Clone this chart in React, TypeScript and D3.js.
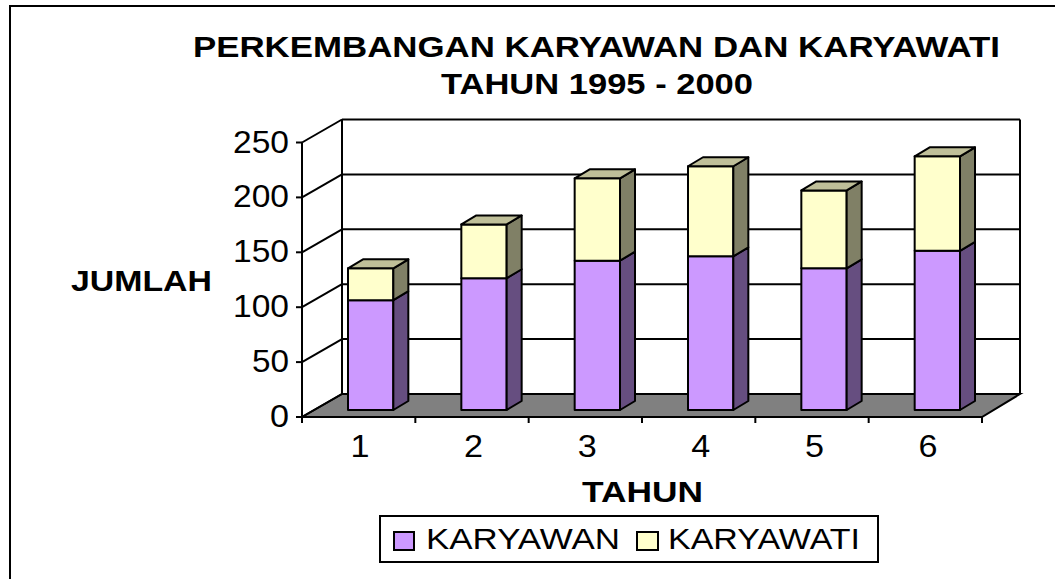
import React from 'react';
import * as d3 from 'd3';

const categories = ['1', '2', '3', '4', '5', '6'];
const karyawan = [100, 120, 136, 140, 129, 145];
const karyawati = [29, 49, 75, 82, 71, 86];
const yTicks = [0, 50, 100, 150, 200, 250];
const seriesNames = ['KARYAWAN', 'KARYAWATI'];

const WIDTH = 1055;
const HEIGHT = 579;
const FONT = '"Liberation Sans", Arial, sans-serif';
const LINE = 2;

const depth = { x: 40, y: -23 };
const barDepth = { x: 15, y: -9 };
const barShift = { x: 12, y: -7 };

const x = d3.scaleBand<string>().domain(categories).range([302, 982]).paddingInner(0.6).paddingOuter(0.3);
const xBack = d3.scaleLinear().domain([0, 1]).range([342, 1020]);
const y = d3.scaleLinear().domain([0, 250]).range([417, 142.5]);

const colors = [
    { front: '#cc99ff', side: '#664e80', top: '#cc99ff' },
    { front: '#ffffcc', side: '#808066', top: '#bfbf99' },
];

const poly = (pts: [number, number][]) => d3.line()(pts) + 'Z';

// text is stretched a little in the original, so widths are fixed by hand
const Label = ({ x, y, w, size, bold, anchor, children }: any) => (
    <text
        x={x}
        y={y}
        textLength={w}
        lengthAdjust="spacingAndGlyphs"
        fontFamily={FONT}
        fontSize={size}
        fontWeight={bold ? 'bold' : 'normal'}
        textAnchor={anchor || 'start'}
        fill="#000"
    >
        {children}
    </text>
);

const Bar = ({ cat, i }: { cat: string; i: number }) => {
    const x0 = x(cat)! + barShift.x;
    const x1 = x0 + x.bandwidth();
    const stacks = [
        [0, karyawan[i]],
        [karyawan[i], karyawan[i] + karyawati[i]],
    ];
    return (
        <g stroke="#000" strokeWidth={LINE} strokeLinejoin="round">
            {stacks.map(([a, b], s) => {
                const yA = y(a) + barShift.y;
                const yB = y(b) + barShift.y;
                return (
                    <g key={s}>
                        <path d={poly([[x0, yA], [x1, yA], [x1, yB], [x0, yB]])} fill={colors[s].front} />
                        <path
                            d={poly([[x1, yA], [x1 + barDepth.x, yA + barDepth.y], [x1 + barDepth.x, yB + barDepth.y], [x1, yB]])}
                            fill={colors[s].side}
                        />
                        {s === 1 && (
                            <path
                                d={poly([[x0, yB], [x1, yB], [x1 + barDepth.x, yB + barDepth.y], [x0 + barDepth.x, yB + barDepth.y]])}
                                fill={colors[s].top}
                            />
                        )}
                    </g>
                );
            })}
        </g>
    );
};

const App: React.FC = () => {
    const [xStart, xEnd] = x.range();
    const step = (xEnd - xStart) / categories.length;
    const xTicks = d3.range(categories.length + 1).map((k) => xStart + k * step);
    const labelPos = d3.scalePoint<string>().domain(categories).range([360, 928]);
    const backLeft = xBack(0);
    const backRight = xBack(1);
    const yBack = (t: number) => y(t) + depth.y;

    return (
        <svg width={WIDTH} height={HEIGHT} style={{ position: 'absolute', left: 0, top: 0, display: 'block' }}>
            <rect width={WIDTH} height={HEIGHT} fill="#fff" />
            {/* outer frame, right and bottom sides are cropped off in the original */}
            <path d={`M10,${HEIGHT}V6H${WIDTH}`} fill="none" stroke="#000" strokeWidth={LINE} />

            <Label x={193} y={57} w={807} size={30} bold>PERKEMBANGAN KARYAWAN DAN KARYAWATI</Label>
            <Label x={441} y={94} w={312} size={30} bold>TAHUN 1995 - 2000</Label>
            <Label x={71} y={291} w={141} size={30} bold>JUMLAH</Label>
            <Label x={582} y={502} w={121} size={30} bold>TAHUN</Label>

            {/* floor */}
            <path
                d={poly([[xStart, y(0)], [xEnd, y(0)], [backRight, yBack(0)], [backLeft, yBack(0)]])}
                fill="#808080"
                stroke="#000"
                strokeWidth={LINE}
            />

            {/* walls and grid */}
            <g stroke="#000" strokeWidth={LINE} fill="none">
                {yTicks.map((t) => (
                    <g key={t}>
                        <line x1={xStart} y1={y(t)} x2={backLeft} y2={yBack(t)} />
                        <line x1={backLeft} y1={yBack(t)} x2={backRight} y2={yBack(t)} />
                        <line x1={xStart - 6} y1={y(t)} x2={xStart} y2={y(t)} />
                    </g>
                ))}
                <line x1={xStart} y1={y(0)} x2={xStart} y2={y(250)} />
                <line x1={backLeft} y1={yBack(0)} x2={backLeft} y2={yBack(250)} />
                <line x1={backRight} y1={yBack(0)} x2={backRight} y2={yBack(250)} />
                {xTicks.map((t) => (
                    <line key={t} x1={t} y1={y(0)} x2={t} y2={y(0) + 6} />
                ))}
            </g>

            {categories.map((c, i) => (
                <Bar key={c} cat={c} i={i} />
            ))}

            {yTicks.map((t) => (
                <Label key={t} x={289} y={y(t) + 10} w={t === 0 ? 19 : t === 50 ? 37 : 56} size={31} anchor="end">
                    {t}
                </Label>
            ))}
            {categories.map((c) => (
                <Label key={c} x={labelPos(c)} y={457} w={19} size={31} anchor="middle">
                    {c}
                </Label>
            ))}

            {/* legend */}
            <rect x={380} y={516} width={498} height={46} fill="#fff" stroke="#000" strokeWidth={LINE} />
            <rect x={394} y={532} width={20} height={18} fill={colors[0].front} stroke="#000" strokeWidth={LINE} />
            <Label x={426} y={549} w={194} size={30}>{seriesNames[0]}</Label>
            <rect x={637} y={532} width={21} height={18} fill={colors[1].front} stroke="#000" strokeWidth={LINE} />
            <Label x={668} y={549} w={192} size={30}>{seriesNames[1]}</Label>
        </svg>
    );
};

export default App;
